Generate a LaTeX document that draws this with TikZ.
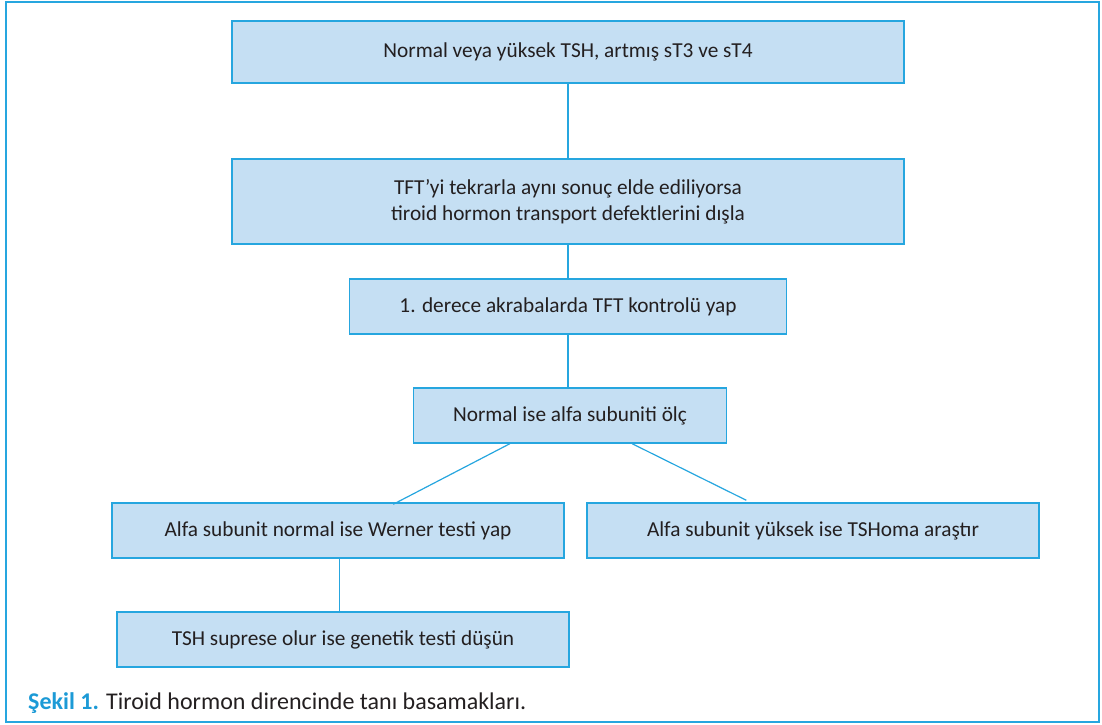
\documentclass[tikz,border=0pt]{standalone}
\usepackage{fontspec}
\setmainfont{Carlito}
\usepackage{tikz}
\usetikzlibrary{calc,positioning}
\definecolor{boxfill}{RGB}{197,223,243}
\definecolor{lineblue}{RGB}{38,166,223}
\definecolor{capblue}{RGB}{28,154,214}
\definecolor{txt}{RGB}{35,31,32}
\tikzset{>=latex,
  stepbox/.style={draw=lineblue,line width=1.5pt,fill=boxfill,text=txt,
    inner sep=0pt,align=center,font=\fontsize{21.3}{26}\selectfont},
  link/.style={draw=lineblue,line width=1.2pt}}

\begin{document}
\begin{tikzpicture}[x=1pt,y=-1pt]
      \useasboundingbox (0,0) rectangle (1102,724);
      \draw[lineblue,line width=2pt] (6,2) rectangle (1099,722);

      \node[stepbox,minimum width=672pt,minimum height=62pt] (tsh) at (568,52)
      {Normal veya yüksek TSH, artmış sT3 ve sT4};
      \node[stepbox,minimum width=672pt,minimum height=85pt] (tft) at (568,201.5)
      {TFT’yi tekrarla aynı sonuç elde ediliyorsa\\tiroid hormon transport defektlerini dışla};
      \node[stepbox,minimum width=437pt,minimum height=55pt] (akraba) at (568,306.5)
      {1. derece akrabalarda TFT kontrolü yap};
      \node[stepbox,minimum width=313pt,minimum height=55pt] (alfa) at (570,415.5)
      {Normal ise alfa subuniti ölç};
      \node[stepbox,minimum width=452pt,minimum height=55pt] (werner) at (338,530.5)
      {Alfa subunit normal ise Werner testi yap};
      \node[stepbox,minimum width=452pt,minimum height=55pt] (tshoma) at (813,530.5)
      {Alfa subunit yüksek ise TSHoma araştır};
      \node[stepbox,minimum width=452pt,minimum height=55pt] (genetik) at (343,639.5)
      {TSH suprese olur ise genetik testi düşün};

      \draw[link] (tsh.south) -- (tft.north);
      \draw[link] (tft.south) -- (akraba.north);
      \draw[link] (akraba.south) -- (akraba.south |- alfa.north);
      \draw[link] ([xshift=97pt]alfa.south west) -- ([xshift=282pt,yshift=-2pt]werner.north west);
      \draw[link] ([xshift=-95pt]alfa.south east) -- ([xshift=160pt,yshift=2pt]tshoma.north west);
      \draw[link] ([xshift=228pt]werner.south west) -- ([xshift=228pt]werner.south west |- genetik.north);

      \node[anchor=west,text=txt,inner sep=0pt,font=\fontsize{24}{28}\selectfont] (sekil) at (28,703)
      {\textbf{\color{capblue}Şekil 1.} Tiroid hormon direncinde tanı basamakları.};
\end{tikzpicture}
\end{document}
